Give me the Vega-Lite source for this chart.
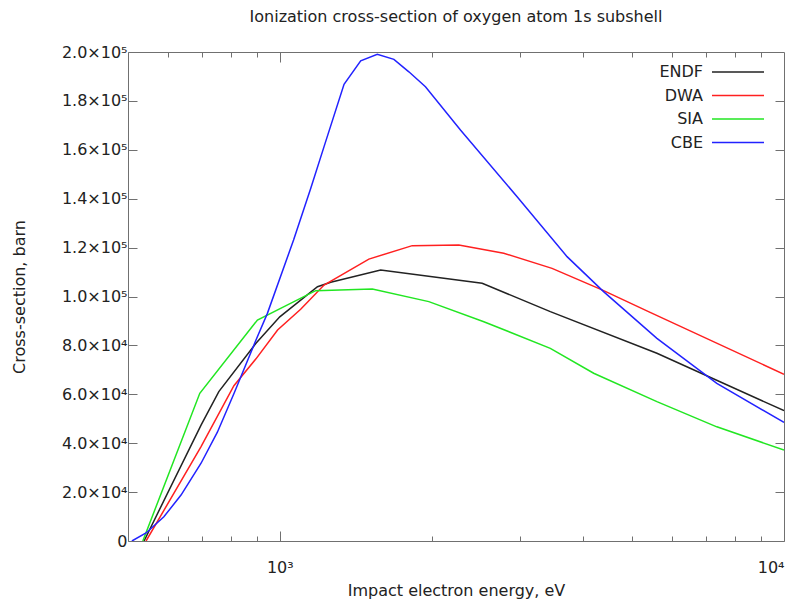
{
  "$schema": "https://vega.github.io/schema/vega-lite/v6.json",
  "width": 656,
  "height": 489,
  "autosize": {"type": "none"},
  "padding": {"left": 128, "top": 52, "right": 17, "bottom": 65},
  "title": {"text": "Ionization cross-section of oxygen atom 1s subshell", "font": "DejaVu Sans", "fontSize": 16, "fontWeight": "normal", "color": "#222222", "anchor": "middle", "offset": 19},
  "config": {
    "font": "DejaVu Sans",
    "view": {"stroke": "#707070", "strokeWidth": 1},
    "axis": {"grid": false, "domain": false, "tickColor": "#707070", "tickWidth": 1, "labelColor": "#222222", "labelFont": "DejaVu Sans", "labelFontSize": 16, "titleFont": "DejaVu Sans", "titleFontSize": 16, "titleFontWeight": "normal", "titleColor": "#222222"}
  },
  "data": {"values": [
    {"series": "ENDF", "E": 538, "sigma": 0},
    {"series": "ENDF", "E": 698, "sigma": 47400},
    {"series": "ENDF", "E": 757, "sigma": 61100},
    {"series": "ENDF", "E": 897, "sigma": 80900},
    {"series": "ENDF", "E": 1000, "sigma": 91700},
    {"series": "ENDF", "E": 1188, "sigma": 104000},
    {"series": "ENDF", "E": 1262, "sigma": 105800},
    {"series": "ENDF", "E": 1585, "sigma": 110800},
    {"series": "ENDF", "E": 2520, "sigma": 105400},
    {"series": "ENDF", "E": 3440, "sigma": 93800},
    {"series": "ENDF", "E": 5597, "sigma": 76800},
    {"series": "ENDF", "E": 10000, "sigma": 53300},
    {"series": "DWA", "E": 543, "sigma": 0},
    {"series": "DWA", "E": 698, "sigma": 38600},
    {"series": "DWA", "E": 811, "sigma": 63500},
    {"series": "DWA", "E": 897, "sigma": 74500},
    {"series": "DWA", "E": 990, "sigma": 86300},
    {"series": "DWA", "E": 1100, "sigma": 94800},
    {"series": "DWA", "E": 1224, "sigma": 104700},
    {"series": "DWA", "E": 1502, "sigma": 115300},
    {"series": "DWA", "E": 1831, "sigma": 120800},
    {"series": "DWA", "E": 2265, "sigma": 121100},
    {"series": "DWA", "E": 2781, "sigma": 117700},
    {"series": "DWA", "E": 3467, "sigma": 111500},
    {"series": "DWA", "E": 4356, "sigma": 102700},
    {"series": "DWA", "E": 5386, "sigma": 93800},
    {"series": "DWA", "E": 10000, "sigma": 68200},
    {"series": "SIA", "E": 535, "sigma": 0},
    {"series": "SIA", "E": 694, "sigma": 60400},
    {"series": "SIA", "E": 903, "sigma": 90400},
    {"series": "SIA", "E": 1178, "sigma": 102400},
    {"series": "SIA", "E": 1526, "sigma": 103100},
    {"series": "SIA", "E": 1975, "sigma": 97900},
    {"series": "SIA", "E": 2539, "sigma": 89700},
    {"series": "SIA", "E": 3440, "sigma": 78800},
    {"series": "SIA", "E": 4193, "sigma": 68600},
    {"series": "SIA", "E": 5597, "sigma": 57000},
    {"series": "SIA", "E": 7358, "sigma": 46700},
    {"series": "SIA", "E": 10000, "sigma": 37200},
    {"series": "CBE", "E": 509, "sigma": 0},
    {"series": "CBE", "E": 543, "sigma": 3300},
    {"series": "CBE", "E": 589, "sigma": 9900},
    {"series": "CBE", "E": 637, "sigma": 18800},
    {"series": "CBE", "E": 698, "sigma": 31800},
    {"series": "CBE", "E": 752, "sigma": 44500},
    {"series": "CBE", "E": 812, "sigma": 60500},
    {"series": "CBE", "E": 897, "sigma": 82200},
    {"series": "CBE", "E": 945, "sigma": 93100},
    {"series": "CBE", "E": 1065, "sigma": 123100},
    {"series": "CBE", "E": 1152, "sigma": 144300},
    {"series": "CBE", "E": 1224, "sigma": 161300},
    {"series": "CBE", "E": 1341, "sigma": 186800},
    {"series": "CBE", "E": 1447, "sigma": 196400},
    {"series": "CBE", "E": 1561, "sigma": 199100},
    {"series": "CBE", "E": 1684, "sigma": 197000},
    {"series": "CBE", "E": 1803, "sigma": 191900},
    {"series": "CBE", "E": 1945, "sigma": 185800},
    {"series": "CBE", "E": 2282, "sigma": 168100},
    {"series": "CBE", "E": 2956, "sigma": 140800},
    {"series": "CBE", "E": 3713, "sigma": 116300},
    {"series": "CBE", "E": 4387, "sigma": 102000},
    {"series": "CBE", "E": 5597, "sigma": 82900},
    {"series": "CBE", "E": 7358, "sigma": 64500},
    {"series": "CBE", "E": 10000, "sigma": 48500}
  ]},
  "layer": [
    {
      "mark": {"type": "line", "strokeWidth": 1.5, "clip": true},
      "encoding": {
        "x": {"field": "E", "type": "quantitative", "scale": {"type": "log", "domain": [500, 10000], "nice": false},
              "axis": {"orient": "bottom", "values": [1000, 10000], "labelExpr": "datum.value == 1000 ? '10³' : '10⁴'", "tickSize": -10, "labelPadding": 28, "title": "Impact electron energy, eV", "titlePadding": 7}},
        "y": {"field": "sigma", "type": "quantitative", "scale": {"domain": [0, 200000], "nice": false},
              "axis": {"orient": "left", "values": [0, 20000, 40000, 60000, 80000, 100000, 120000, 140000, 160000, 180000, 200000], "labelExpr": "datum.value == 0 ? '0' : datum.value < 100000 ? format(datum.value / 10000, '.1f') + '×10⁴' : format(datum.value / 100000, '.1f') + '×10⁵'", "tickSize": -9, "labelPadding": 10, "title": "Cross-section, barn", "titlePadding": 34}},
        "color": {"field": "series", "type": "nominal",
                  "scale": {"domain": ["ENDF", "DWA", "SIA", "CBE"], "range": ["#222222", "#ff2020", "#22e622", "#2222ff"]},
                  "legend": {"title": null, "orient": "none", "legendX": 575, "legendY": 9, "symbolType": "stroke", "symbolSize": 2704, "symbolStrokeWidth": 1.5, "labelFontSize": 16, "labelFont": "DejaVu Sans", "labelColor": "#222222", "rowPadding": 4.5, "padding": 0, "labelLimit": 200,
                             "encode": {"labels": {"update": {"align": {"value": "right"}, "x": {"value": 0}, "y": {"value": 11}}}, "symbols": {"update": {"x": {"value": 35}, "y": {"value": 11}}}}}}
      }
    },
    {
      "mark": {"type": "point", "opacity": 0},
      "encoding": {
        "x": {"field": "E", "type": "quantitative", "axis": {"orient": "bottom", "values": [600, 700, 800, 900, 2000, 3000, 4000, 5000, 6000, 7000, 8000, 9000], "labels": false, "tickSize": -5, "title": null}},
        "y": {"field": "sigma", "type": "quantitative", "axis": {"orient": "right", "values": [20000, 40000, 60000, 80000, 100000, 120000, 140000, 160000, 180000], "labels": false, "tickSize": -9, "title": null}}
      }
    },
    {
      "mark": {"type": "point", "opacity": 0},
      "encoding": {
        "x": {"field": "E", "type": "quantitative", "axis": {"orient": "top", "values": [1000], "labels": false, "tickSize": -10, "title": null}},
        "y": {"field": "sigma", "type": "quantitative", "axis": null}
      }
    },
    {
      "mark": {"type": "point", "opacity": 0},
      "encoding": {
        "x": {"field": "E", "type": "quantitative", "axis": {"orient": "top", "values": [600, 700, 800, 900, 2000, 3000, 4000, 5000, 6000, 7000, 8000, 9000], "labels": false, "tickSize": -5, "title": null}},
        "y": {"field": "sigma", "type": "quantitative", "axis": null}
      }
    }
  ],
  "resolve": {"axis": {"x": "independent", "y": "independent"}}
}
